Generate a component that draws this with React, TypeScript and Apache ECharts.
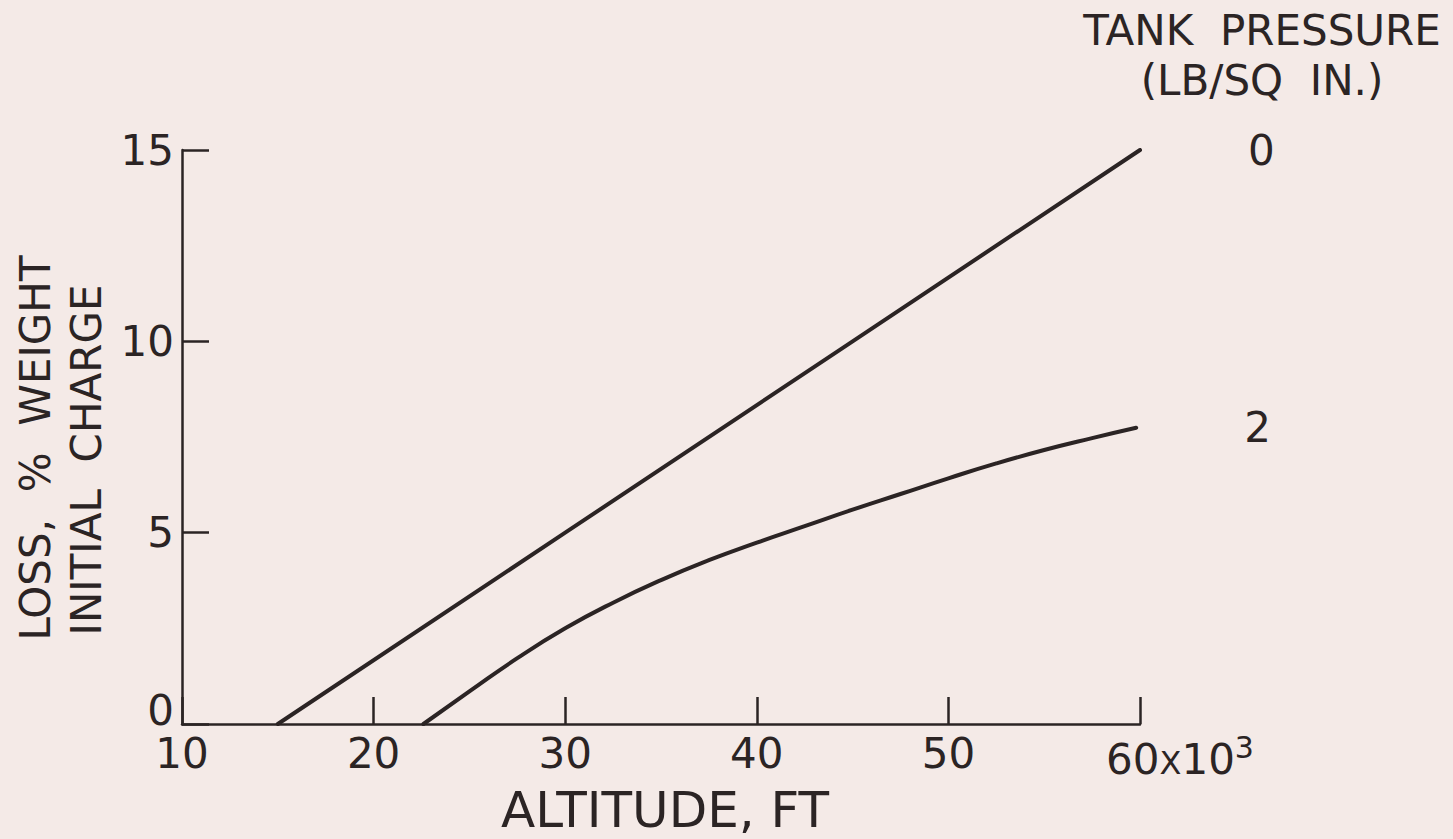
import React, { useEffect, useRef } from "react";
import * as echarts from "echarts";

// Curve for tank pressure 0 lb/sq in.
const altitude0 = [15, 30, 45, 60];
const loss0 = [0, 5, 10, 15];

// Curve for tank pressure 2 lb/sq in.
const altitude2 = [22.6, 25, 27.5, 30, 32.5, 35, 37.5, 40, 42.5, 45, 47.5, 50, 52.5, 55, 57.5, 59.8];
const loss2 = [0, 0.85, 1.72, 2.5, 3.17, 3.76, 4.28, 4.74, 5.17, 5.6, 6.01, 6.42, 6.81, 7.16, 7.47, 7.74];

const seriesNames = ["0", "2"];
const xTicks = [10, 20, 30, 40, 50, 60];
const yTicks = [0, 5, 10, 15];

const INK = "#2b2424";
const BG = "#f4eae7";
const FONT = "DejaVu Sans";

export default function App() {
  const ref = useRef<HTMLDivElement>(null);

  useEffect(() => {
    if (!ref.current) return;
    const chart = echarts.init(ref.current, undefined, { renderer: "svg" });
    const pairs = (xs: number[], ys: number[]) => xs.map((x, i) => [x, ys[i]]);
    const endLabel = {
      show: true,
      formatter: "{a}",
      distance: 108,
      color: INK,
      fontFamily: FONT,
      fontSize: 42,
    };
    chart.setOption({
      animation: false,
      backgroundColor: BG,
      grid: { left: 182, right: 313, top: 150, bottom: 115, containLabel: false },
      xAxis: {
        type: "value",
        min: xTicks[0],
        max: xTicks[xTicks.length - 1],
        interval: 10,
        axisLine: { show: true, lineStyle: { color: INK, width: 2.5 } },
        axisTick: { show: true, inside: true, length: 27, lineStyle: { color: INK, width: 2.5 } },
        splitLine: { show: false },
        axisLabel: {
          margin: 8,
          color: INK,
          fontFamily: FONT,
          fontSize: 42,
          formatter: (v: number) =>
            v === 60 ? "{pad|}{n|60}{x|X}{n|10}{sup|3}" : "{n|" + v + "}",
          rich: {
            n: { fontSize: 42, fontFamily: FONT, color: INK },
            x: { fontSize: 32, fontFamily: FONT, color: INK, padding: [8, 0, 0, 0] },
            pad: { width: 80 },
            sup: { fontSize: 30, fontFamily: FONT, color: INK, padding: [0, 0, 24, 0] },
          },
        },
      },
      yAxis: {
        type: "value",
        min: yTicks[0],
        max: yTicks[yTicks.length - 1],
        interval: 5,
        axisLine: { show: true, lineStyle: { color: INK, width: 2.5 } },
        axisTick: { show: true, inside: true, length: 27, lineStyle: { color: INK, width: 2.5 } },
        splitLine: { show: false },
        axisLabel: {
          margin: 8,
          color: INK,
          fontFamily: FONT,
          fontSize: 42,
          formatter: (v: number) => (v === 0 ? "{z|0}" : "{n|" + v + "}"),
          rich: {
            n: { fontSize: 42, fontFamily: FONT, color: INK },
            z: { fontSize: 42, fontFamily: FONT, color: INK, padding: [0, 0, 28, 0] },
          },
        },
      },
      graphic: [
        {
          type: "text",
          x: 35,
          y: 448,
          rotation: Math.PI / 2,
          style: {
            text: "LOSS,  %  WEIGHT",
            fill: INK,
            font: `42px "${FONT}"`,
            textAlign: "center",
            textVerticalAlign: "middle",
          },
        },
        {
          type: "text",
          x: 86,
          y: 460,
          rotation: Math.PI / 2,
          style: {
            text: "INITIAL  CHARGE",
            fill: INK,
            font: `42px "${FONT}"`,
            textAlign: "center",
            textVerticalAlign: "middle",
          },
        },
        {
          type: "text",
          x: 665,
          y: 810,
          style: {
            text: "ALTITUDE, FT",
            fill: INK,
            font: `50px "${FONT}"`,
            textAlign: "center",
            textVerticalAlign: "middle",
          },
        },
        {
          type: "text",
          x: 1262,
          y: 30,
          style: {
            text: "TANK  PRESSURE",
            fill: INK,
            font: `42px "${FONT}"`,
            textAlign: "center",
            textVerticalAlign: "middle",
          },
        },
        {
          type: "text",
          x: 1262,
          y: 80,
          style: {
            text: "(LB/SQ  IN.)",
            fill: INK,
            font: `42px "${FONT}"`,
            textAlign: "center",
            textVerticalAlign: "middle",
          },
        },
      ],
      series: [
        {
          name: seriesNames[0],
          type: "line",
          data: pairs(altitude0, loss0),
          showSymbol: false,
          lineStyle: { color: INK, width: 4, cap: "round" },
          endLabel,
        },
        {
          name: seriesNames[1],
          type: "line",
          data: pairs(altitude2, loss2),
          showSymbol: false,
          smooth: 0.5,
          lineStyle: { color: INK, width: 4, cap: "round" },
          endLabel,
        },
      ],
    });
    return () => chart.dispose();
  }, []);

  return (
    <div
      ref={ref}
      style={{ position: "absolute", left: 0, top: 0, width: 1453, height: 839 }}
    />
  );
}
